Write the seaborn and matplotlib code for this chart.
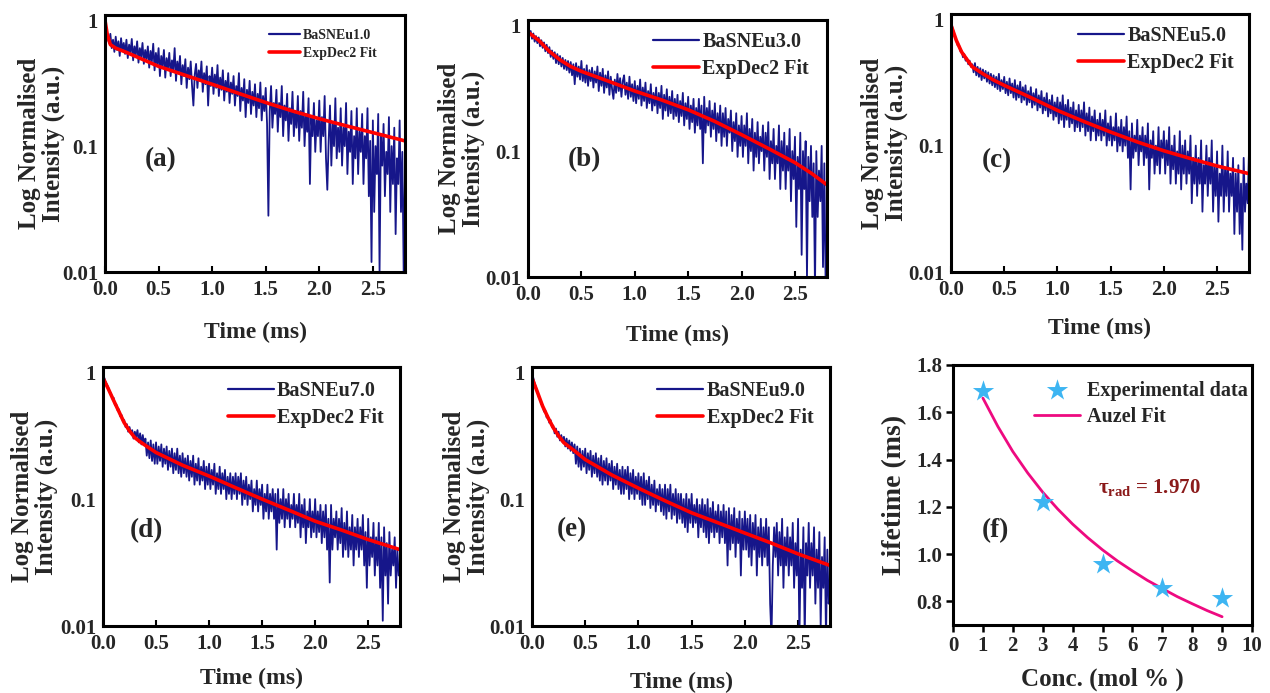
import numpy as np
import matplotlib
matplotlib.use('Agg')
import matplotlib.pyplot as plt
import seaborn as sns
from matplotlib.ticker import FixedLocator, FixedFormatter, NullLocator

sns.set_theme(style='white')
plt.rcParams['font.family'] = ['Liberation Serif', 'DejaVu Serif']
plt.rcParams['font.weight'] = 'bold'
plt.rcParams['axes.labelweight'] = 'bold'
plt.rcParams['mathtext.fontset'] = 'custom'
plt.rcParams['mathtext.rm'] = 'Liberation Serif:bold'
plt.rcParams['mathtext.it'] = 'Liberation Serif:bold:italic'
plt.rcParams['mathtext.bf'] = 'Liberation Serif:bold'

# ---------------- data ----------------
time = np.round(np.arange(225) * 0.0125, 4)   # sampling grid 0 .. 2.8 ms

decay_a = [1.0, 0.85, 0.72, 0.66, 0.78, 0.60, 0.70, 0.56, 0.74, 0.58, 0.68, 0.52, 0.72, 0.57, 0.66, 0.54,
           0.70, 0.50, 0.64, 0.55, 0.71, 0.48, 0.62, 0.53, 0.68, 0.46, 0.60, 0.51, 0.66, 0.45, 0.58, 0.49,
           0.62, 0.42, 0.57, 0.47, 0.65, 0.40, 0.55, 0.44, 0.60, 0.36, 0.52, 0.43, 0.58, 0.35, 0.50, 0.41,
           0.55, 0.36, 0.48, 0.40, 0.60, 0.33, 0.47, 0.38, 0.52, 0.31, 0.44, 0.36, 0.49, 0.29, 0.42, 0.34,
           0.47, 0.30, 0.21, 0.37, 0.45, 0.29, 0.40, 0.33, 0.47, 0.27, 0.38, 0.31, 0.43, 0.21, 0.36, 0.30,
           0.42, 0.26, 0.37, 0.29, 0.44, 0.25, 0.35, 0.28, 0.40, 0.23, 0.33, 0.27, 0.38, 0.22, 0.32, 0.26,
           0.36, 0.21, 0.30, 0.25, 0.38, 0.19, 0.29, 0.23, 0.34, 0.17, 0.28, 0.22, 0.33, 0.18, 0.27, 0.21,
           0.31, 0.17, 0.26, 0.20, 0.32, 0.16, 0.25, 0.19, 0.29, 0.15, 0.028, 0.19, 0.30, 0.14, 0.22, 0.18,
           0.28, 0.13, 0.22, 0.17, 0.30, 0.12, 0.21, 0.16, 0.26, 0.11, 0.20, 0.15, 0.27, 0.12, 0.19, 0.14,
           0.25, 0.11, 0.19, 0.14, 0.27, 0.10, 0.18, 0.13, 0.24, 0.05, 0.17, 0.12, 0.22, 0.09, 0.16, 0.12,
           0.23, 0.09, 0.17, 0.12, 0.25, 0.08, 0.045, 0.11, 0.21, 0.07, 0.15, 0.10, 0.24, 0.08, 0.14, 0.09,
           0.20, 0.07, 0.14, 0.10, 0.22, 0.06, 0.13, 0.09, 0.19, 0.05, 0.12, 0.08, 0.20, 0.06, 0.13, 0.09,
           0.18, 0.05, 0.12, 0.08, 0.20, 0.04, 0.11, 0.012, 0.16, 0.03, 0.10, 0.06, 0.18, 0.01, 0.12, 0.07,
           0.15, 0.04, 0.09, 0.06, 0.17, 0.03, 0.10, 0.05, 0.14, 0.02, 0.08, 0.05, 0.16, 0.03, 0.09, 0.01,
           0.06]
decay_b = [0.95, 0.84, 0.90, 0.78, 0.86, 0.74, 0.82, 0.72, 0.80, 0.68, 0.76, 0.66, 0.73, 0.62, 0.70, 0.60,
           0.67, 0.56, 0.63, 0.54, 0.61, 0.50, 0.59, 0.49, 0.57, 0.47, 0.55, 0.45, 0.53, 0.44, 0.52, 0.42,
           0.51, 0.40, 0.49, 0.34, 0.50, 0.39, 0.47, 0.37, 0.52, 0.36, 0.45, 0.35, 0.48, 0.33, 0.44, 0.36,
           0.46, 0.32, 0.43, 0.35, 0.47, 0.30, 0.42, 0.33, 0.45, 0.29, 0.40, 0.32, 0.43, 0.28, 0.39, 0.31,
           0.26, 0.37, 0.29, 0.41, 0.30, 0.38, 0.27, 0.36, 0.40, 0.28, 0.35, 0.26, 0.39, 0.27, 0.34, 0.25,
           0.36, 0.24, 0.33, 0.26, 0.37, 0.23, 0.32, 0.25, 0.35, 0.22, 0.30, 0.24, 0.34, 0.21, 0.29, 0.23,
           0.32, 0.20, 0.29, 0.22, 0.33, 0.18, 0.28, 0.21, 0.31, 0.19, 0.27, 0.20, 0.30, 0.18, 0.26, 0.19,
           0.28, 0.17, 0.25, 0.19, 0.29, 0.16, 0.24, 0.18, 0.27, 0.15, 0.23, 0.17, 0.26, 0.14, 0.22, 0.16,
           0.26, 0.15, 0.23, 0.08, 0.27, 0.14, 0.22, 0.16, 0.25, 0.13, 0.21, 0.15, 0.24, 0.12, 0.20, 0.14,
           0.23, 0.11, 0.20, 0.13, 0.22, 0.11, 0.18, 0.14, 0.21, 0.10, 0.17, 0.12, 0.20, 0.09, 0.16, 0.11,
           0.19, 0.09, 0.16, 0.11, 0.20, 0.08, 0.15, 0.10, 0.18, 0.07, 0.14, 0.09, 0.17, 0.08, 0.13, 0.10,
           0.16, 0.07, 0.14, 0.09, 0.17, 0.06, 0.12, 0.08, 0.15, 0.06, 0.11, 0.08, 0.16, 0.05, 0.12, 0.07,
           0.14, 0.05, 0.11, 0.07, 0.15, 0.04, 0.10, 0.06, 0.13, 0.025, 0.09, 0.05, 0.14, 0.015, 0.10, 0.05,
           0.12, 0.01, 0.09, 0.04, 0.11, 0.03, 0.08, 0.008, 0.10, 0.03, 0.07, 0.04, 0.11, 0.012, 0.08, 0.008,
           0.01]
decay_c = [1.0, 0.86, 0.80, 0.72, 0.68, 0.62, 0.63, 0.56, 0.56, 0.50, 0.53, 0.47, 0.49, 0.44, 0.47, 0.42,
           0.44, 0.38, 0.45, 0.36, 0.42, 0.35, 0.41, 0.33, 0.40, 0.34, 0.39, 0.32, 0.38, 0.31, 0.37, 0.30,
           0.36, 0.29, 0.35, 0.28, 0.37, 0.27, 0.33, 0.28, 0.35, 0.26, 0.32, 0.25, 0.34, 0.26, 0.31, 0.24,
           0.33, 0.23, 0.30, 0.24, 0.32, 0.22, 0.29, 0.23, 0.30, 0.21, 0.27, 0.22, 0.29, 0.20, 0.26, 0.21,
           0.28, 0.19, 0.25, 0.20, 0.27, 0.18, 0.24, 0.19, 0.26, 0.17, 0.23, 0.18, 0.25, 0.16, 0.22, 0.17,
           0.24, 0.15, 0.22, 0.16, 0.25, 0.14, 0.21, 0.16, 0.23, 0.14, 0.20, 0.15, 0.22, 0.13, 0.19, 0.14,
           0.21, 0.13, 0.19, 0.14, 0.22, 0.12, 0.18, 0.13, 0.20, 0.11, 0.17, 0.13, 0.19, 0.11, 0.16, 0.12,
           0.18, 0.11, 0.16, 0.12, 0.19, 0.10, 0.15, 0.11, 0.17, 0.10, 0.14, 0.11, 0.18, 0.09, 0.14, 0.10,
           0.16, 0.09, 0.14, 0.10, 0.17, 0.08, 0.13, 0.045, 0.15, 0.08, 0.12, 0.09, 0.16, 0.07, 0.12, 0.09,
           0.14, 0.07, 0.12, 0.08, 0.15, 0.045, 0.11, 0.08, 0.13, 0.06, 0.10, 0.07, 0.14, 0.06, 0.11, 0.08,
           0.13, 0.06, 0.11, 0.07, 0.14, 0.05, 0.10, 0.065, 0.12, 0.05, 0.09, 0.06, 0.13, 0.045, 0.10, 0.06,
           0.11, 0.05, 0.09, 0.06, 0.12, 0.035, 0.08, 0.05, 0.10, 0.04, 0.08, 0.05, 0.11, 0.03, 0.07, 0.05,
           0.10, 0.04, 0.08, 0.05, 0.11, 0.03, 0.07, 0.04, 0.09, 0.025, 0.06, 0.04, 0.10, 0.03, 0.065, 0.04,
           0.09, 0.03, 0.06, 0.04, 0.08, 0.02, 0.06, 0.03, 0.07, 0.02, 0.05, 0.015, 0.08, 0.03, 0.05, 0.035,
           0.09]
decay_d = [0.98, 0.90, 0.84, 0.80, 0.76, 0.70, 0.68, 0.62, 0.63, 0.55, 0.56, 0.50, 0.51, 0.45, 0.46, 0.41,
           0.42, 0.37, 0.39, 0.34, 0.37, 0.33, 0.35, 0.30, 0.34, 0.31, 0.35, 0.28, 0.33, 0.27, 0.32, 0.27,
           0.30, 0.22, 0.28, 0.21, 0.29, 0.20, 0.27, 0.19, 0.28, 0.19, 0.26, 0.20, 0.27, 0.18, 0.25, 0.19,
           0.26, 0.17, 0.24, 0.18, 0.25, 0.16, 0.23, 0.17, 0.25, 0.16, 0.22, 0.15, 0.23, 0.16, 0.21, 0.15,
           0.22, 0.14, 0.20, 0.15, 0.22, 0.13, 0.19, 0.14, 0.21, 0.13, 0.18, 0.14, 0.20, 0.12, 0.18, 0.13,
           0.19, 0.12, 0.17, 0.13, 0.19, 0.11, 0.16, 0.12, 0.18, 0.11, 0.16, 0.12, 0.17, 0.10, 0.15, 0.11,
           0.16, 0.10, 0.15, 0.11, 0.16, 0.10, 0.15, 0.11, 0.16, 0.09, 0.14, 0.10, 0.15, 0.09, 0.13, 0.10,
           0.14, 0.08, 0.12, 0.09, 0.14, 0.08, 0.12, 0.09, 0.13, 0.07, 0.11, 0.08, 0.13, 0.07, 0.11, 0.08,
           0.12, 0.07, 0.11, 0.04, 0.12, 0.065, 0.10, 0.07, 0.12, 0.06, 0.10, 0.07, 0.11, 0.06, 0.09, 0.07,
           0.11, 0.06, 0.09, 0.065, 0.11, 0.05, 0.09, 0.06, 0.10, 0.045, 0.08, 0.06, 0.10, 0.05, 0.08, 0.055,
           0.10, 0.05, 0.08, 0.055, 0.09, 0.045, 0.08, 0.05, 0.09, 0.04, 0.07, 0.022, 0.09, 0.04, 0.07, 0.05,
           0.08, 0.04, 0.07, 0.045, 0.085, 0.035, 0.065, 0.04, 0.08, 0.035, 0.06, 0.04, 0.075, 0.03, 0.06, 0.04,
           0.07, 0.035, 0.06, 0.04, 0.075, 0.03, 0.055, 0.02, 0.07, 0.03, 0.05, 0.035, 0.065, 0.025, 0.05, 0.03,
           0.065, 0.02, 0.05, 0.011, 0.06, 0.025, 0.045, 0.015, 0.055, 0.025, 0.04, 0.03, 0.05, 0.02, 0.04, 0.025,
           0.03]
decay_e = [1.0, 0.90, 0.82, 0.76, 0.71, 0.64, 0.62, 0.56, 0.55, 0.49, 0.50, 0.44, 0.45, 0.40, 0.42, 0.37,
           0.38, 0.33, 0.36, 0.31, 0.34, 0.29, 0.32, 0.28, 0.31, 0.26, 0.30, 0.25, 0.29, 0.24, 0.28, 0.23,
           0.27, 0.19, 0.26, 0.18, 0.25, 0.17, 0.24, 0.18, 0.25, 0.16, 0.23, 0.17, 0.24, 0.15, 0.22, 0.16,
           0.23, 0.15, 0.21, 0.14, 0.22, 0.13, 0.20, 0.14, 0.21, 0.13, 0.19, 0.14, 0.20, 0.12, 0.18, 0.13,
           0.19, 0.12, 0.17, 0.11, 0.18, 0.11, 0.17, 0.12, 0.18, 0.10, 0.16, 0.11, 0.17, 0.10, 0.15, 0.11,
           0.16, 0.10, 0.15, 0.09, 0.16, 0.09, 0.14, 0.10, 0.15, 0.085, 0.13, 0.09, 0.14, 0.08, 0.12, 0.09,
           0.13, 0.08, 0.12, 0.075, 0.13, 0.07, 0.12, 0.08, 0.13, 0.07, 0.11, 0.075, 0.12, 0.065, 0.11, 0.07,
           0.11, 0.065, 0.10, 0.06, 0.11, 0.055, 0.10, 0.065, 0.11, 0.06, 0.09, 0.065, 0.10, 0.05, 0.09, 0.06,
           0.10, 0.055, 0.09, 0.05, 0.10, 0.045, 0.085, 0.055, 0.095, 0.05, 0.08, 0.055, 0.09, 0.045, 0.08, 0.05,
           0.09, 0.045, 0.08, 0.03, 0.085, 0.04, 0.075, 0.045, 0.085, 0.035, 0.07, 0.045, 0.08, 0.025, 0.07, 0.04,
           0.08, 0.04, 0.07, 0.035, 0.075, 0.03, 0.065, 0.04, 0.075, 0.025, 0.06, 0.035, 0.07, 0.03, 0.06, 0.035,
           0.07, 0.03, 0.06, 0.015, 0.008, 0.03, 0.06, 0.035, 0.065, 0.025, 0.055, 0.03, 0.07, 0.02, 0.05, 0.03,
           0.06, 0.025, 0.05, 0.03, 0.065, 0.02, 0.045, 0.025, 0.07, 0.008, 0.04, 0.02, 0.06, 0.008, 0.045, 0.025,
           0.065, 0.02, 0.045, 0.025, 0.06, 0.015, 0.04, 0.02, 0.055, 0.01, 0.035, 0.02, 0.05, 0.008, 0.04, 0.015,
           0.02]

fit_t_a = [0, 0.02, 0.05, 0.1, 0.2, 0.3, 0.5, 0.75, 1.0, 1.25, 1.5, 1.75, 2.0, 2.25, 2.5, 2.8]
fit_a = [1.0, 0.78, 0.64, 0.60, 0.555, 0.51, 0.43, 0.365, 0.31, 0.262, 0.222, 0.19, 0.165, 0.145, 0.128, 0.11]
fit_t_b = [0, 0.1, 0.2, 0.3, 0.4, 0.5, 0.75, 1.0, 1.25, 1.5, 1.75, 2.0, 2.25, 2.5, 2.65, 2.8]
fit_b = [0.88, 0.76, 0.62, 0.53, 0.47, 0.43, 0.36, 0.30, 0.255, 0.213, 0.172, 0.135, 0.105, 0.081, 0.067, 0.054]
fit_t_c = [0, 0.05, 0.1, 0.15, 0.2, 0.3, 0.4, 0.5, 0.75, 1.0, 1.25, 1.5, 1.75, 2.0, 2.25, 2.5, 2.8]
fit_c = [0.9, 0.68, 0.55, 0.48, 0.42, 0.37, 0.33, 0.30, 0.24, 0.19, 0.155, 0.128, 0.107, 0.091, 0.079, 0.069, 0.06]
fit_t_d = [0, 0.05, 0.1, 0.15, 0.2, 0.25, 0.3, 0.35, 0.4, 0.5, 0.75, 1.0, 1.25, 1.5, 1.75, 2.0, 2.25, 2.5, 2.8]
fit_d = [0.9, 0.74, 0.60, 0.49, 0.40, 0.345, 0.305, 0.283, 0.265, 0.233, 0.185, 0.152, 0.123, 0.10, 0.082,
         0.067, 0.057, 0.048, 0.04]
fit_t_e = [0, 0.05, 0.1, 0.15, 0.2, 0.25, 0.3, 0.4, 0.5, 0.75, 1.0, 1.25, 1.5, 1.75, 2.0, 2.25, 2.5, 2.8]
fit_e = [0.9, 0.70, 0.54, 0.44, 0.365, 0.315, 0.278, 0.24, 0.205, 0.155, 0.122, 0.097, 0.078, 0.065, 0.054,
         0.045, 0.037, 0.030]

samples = ['BaSNEu1.0', 'BaSNEu3.0', 'BaSNEu5.0', 'BaSNEu7.0', 'BaSNEu9.0']
panel_tags = ['(a)', '(b)', '(c)', '(d)', '(e)', '(f)']

conc = [1, 3, 5, 7, 9]
lifetime = [1.69, 1.22, 0.96, 0.855, 0.815]
auzel_c = [1, 1.5, 2, 2.5, 3, 3.5, 4, 4.5, 5, 5.5, 6, 6.5, 7, 7.5, 8, 8.5, 9]
auzel_tau = [1.66, 1.54, 1.434, 1.343, 1.262, 1.191, 1.127, 1.07, 1.018, 0.971, 0.929,
             0.889, 0.854, 0.82, 0.79, 0.761, 0.735]
log_ticks = [0.01, 0.1, 1]
log_tick_labels = ['0.01', '0.1', '1']
time_ticks = [0.0, 0.5, 1.0, 1.5, 2.0, 2.5]
conc_ticks = list(range(0, 11))
life_ticks = [0.8, 1.0, 1.2, 1.4, 1.6, 1.8]

# ---------------- layout ----------------
W, H = 1270, 693
fig = plt.figure(figsize=(W / 100, H / 100), dpi=100)
fig.patch.set_facecolor('white')

def box(l, r, t, b):
    return [l / W, (H - b) / H, (r - l) / W, (b - t) / H]

boxes = [box(105, 405, 15, 272), box(528, 827, 20, 277), box(951, 1249, 14, 272),
         box(103, 400, 367, 626), box(532, 830, 367, 626), box(953, 1252, 365, 625)]

NAVY = '#16168a'
RED = '#ff0000'

decays = [decay_a, decay_b, decay_c, decay_d, decay_e]
fits = [(fit_t_a, fit_a), (fit_t_b, fit_b), (fit_t_c, fit_c), (fit_t_d, fit_d), (fit_t_e, fit_e)]
# per-panel tweak: (legend anchor x, anchor y, legend fontsize, ylabel x, xlabel y, tag x, tag y)
cfg = [
    (0.545, 0.945, 10.0, -0.133, -0.195, 0.52, 0.078),
    (0.418, 0.955, 14.5, -0.144, -0.187, 0.53, 0.086),
    (0.426, 0.955, 14.5, -0.144, -0.178, 0.43, 0.076),
    (0.420, 0.945, 14.5, -0.152, -0.162, 0.41, 0.056),
    (0.420, 0.945, 14.5, -0.141, -0.178, 0.375, 0.057),
]

for i in range(5):
    ax = fig.add_axes(boxes[i])
    lx, ly, lfs, ylx, xly, tx, ty = cfg[i]
    sns.lineplot(x=time, y=decays[i], ax=ax, color=NAVY, lw=1.3, label=samples[i],
                 estimator=None, sort=False)
    sns.lineplot(x=fits[i][0], y=fits[i][1], ax=ax, color=RED, lw=2.6, label='ExpDec2 Fit',
                 estimator=None, sort=False)
    ax.set_yscale('log')
    ax.set_xlim(0, 2.8)
    ax.set_ylim(0.01, 1.1)
    ax.yaxis.set_major_locator(FixedLocator(log_ticks))
    ax.yaxis.set_major_formatter(FixedFormatter(log_tick_labels))
    ax.yaxis.set_minor_locator(NullLocator())
    ax.set_xticks(time_ticks)
    ax.set_xticklabels([f'{v:.1f}' for v in time_ticks])
    ax.tick_params(axis='both', labelsize=15)
    ax.tick_params(axis='x', direction='in', length=4, width=1.5, bottom=True, pad=6,
                   color='black')
    ax.tick_params(axis='y', length=0, pad=5)
    for lab in ax.get_xticklabels() + ax.get_yticklabels():
        lab.set_fontweight('bold')
    for s in ax.spines.values():
        s.set_visible(True)
        s.set_color('black')
        s.set_linewidth(2.2)
    ax.set_ylabel('Log Normalised\nIntensity (a.u.)', fontsize=18, fontweight='bold',
                  linespacing=1.05)
    ax.yaxis.set_label_coords(ylx, 0.5)
    ax.set_xlabel('Time (ms)', fontsize=17, fontweight='bold', va='top')
    ax.xaxis.set_label_coords(0.5, xly)
    ax.text(tx, ty, panel_tags[i], fontsize=19.5, fontweight='bold', ha='center', va='center')
    leg = ax.legend(loc='upper left', bbox_to_anchor=(lx, ly), frameon=False,
                    prop={'weight': 'bold', 'size': lfs}, handlelength=2.3,
                    handletextpad=0.15, labelspacing=0.35, borderpad=0, borderaxespad=0)
    leg.get_lines()[0].set_linewidth(1.6)
    ax.grid(False)

# ---------------- panel f ----------------
ax = fig.add_axes(boxes[5])
sns.scatterplot(x=conc, y=lifetime, ax=ax, marker='*', s=260, color='#3db5f2',
                edgecolor='#3db5f2', linewidth=0, label='Experimental data', zorder=3)
sns.lineplot(x=auzel_c, y=auzel_tau, ax=ax, color='#ee0a80', lw=2.0, label='Auzel Fit',
             estimator=None, sort=False)
ax.set_xlim(0, 10)
ax.set_ylim(0.7, 1.8)
ax.set_xticks(conc_ticks)
ax.set_xticklabels([str(v) for v in conc_ticks])
ax.set_yticks(life_ticks)
ax.set_yticklabels([f'{v:.1f}' for v in life_ticks])
ax.tick_params(axis='both', direction='out', length=5, width=1.8, labelsize=15,
               bottom=True, left=True, color='black')
ax.tick_params(axis='x', pad=3)
ax.tick_params(axis='y', pad=3)
for lab in ax.get_xticklabels() + ax.get_yticklabels():
    lab.set_fontweight('bold')
for s in ax.spines.values():
    s.set_visible(True)
    s.set_color('black')
    s.set_linewidth(2.2)
ax.set_ylabel('Lifetime (ms)', fontsize=20, fontweight='bold')
ax.yaxis.set_label_coords(-0.154, 0.5)
ax.set_xlabel('Conc. (mol % )', fontsize=18, fontweight='bold', va='top')
ax.xaxis.set_label_coords(0.5, -0.165)
ax.text(1.43, 1.10, panel_tags[5], fontsize=19.5, fontweight='bold', ha='center', va='center')
ax.text(4.85, 1.28, r'$\mathrm{\tau}_{\mathrm{rad}}$ = 1.970', fontsize=15, color='#8b1a1a',
        fontweight='bold', ha='left', va='center')
ax.legend(loc='upper left', bbox_to_anchor=(0.27, 0.94), frameon=False,
          prop={'weight': 'bold', 'size': 14.5}, handlelength=2.3,
          handletextpad=0.35, labelspacing=0.3, borderpad=0, borderaxespad=0)
ax.grid(False)

fig.savefig('out.png', dpi=100, facecolor='white')
